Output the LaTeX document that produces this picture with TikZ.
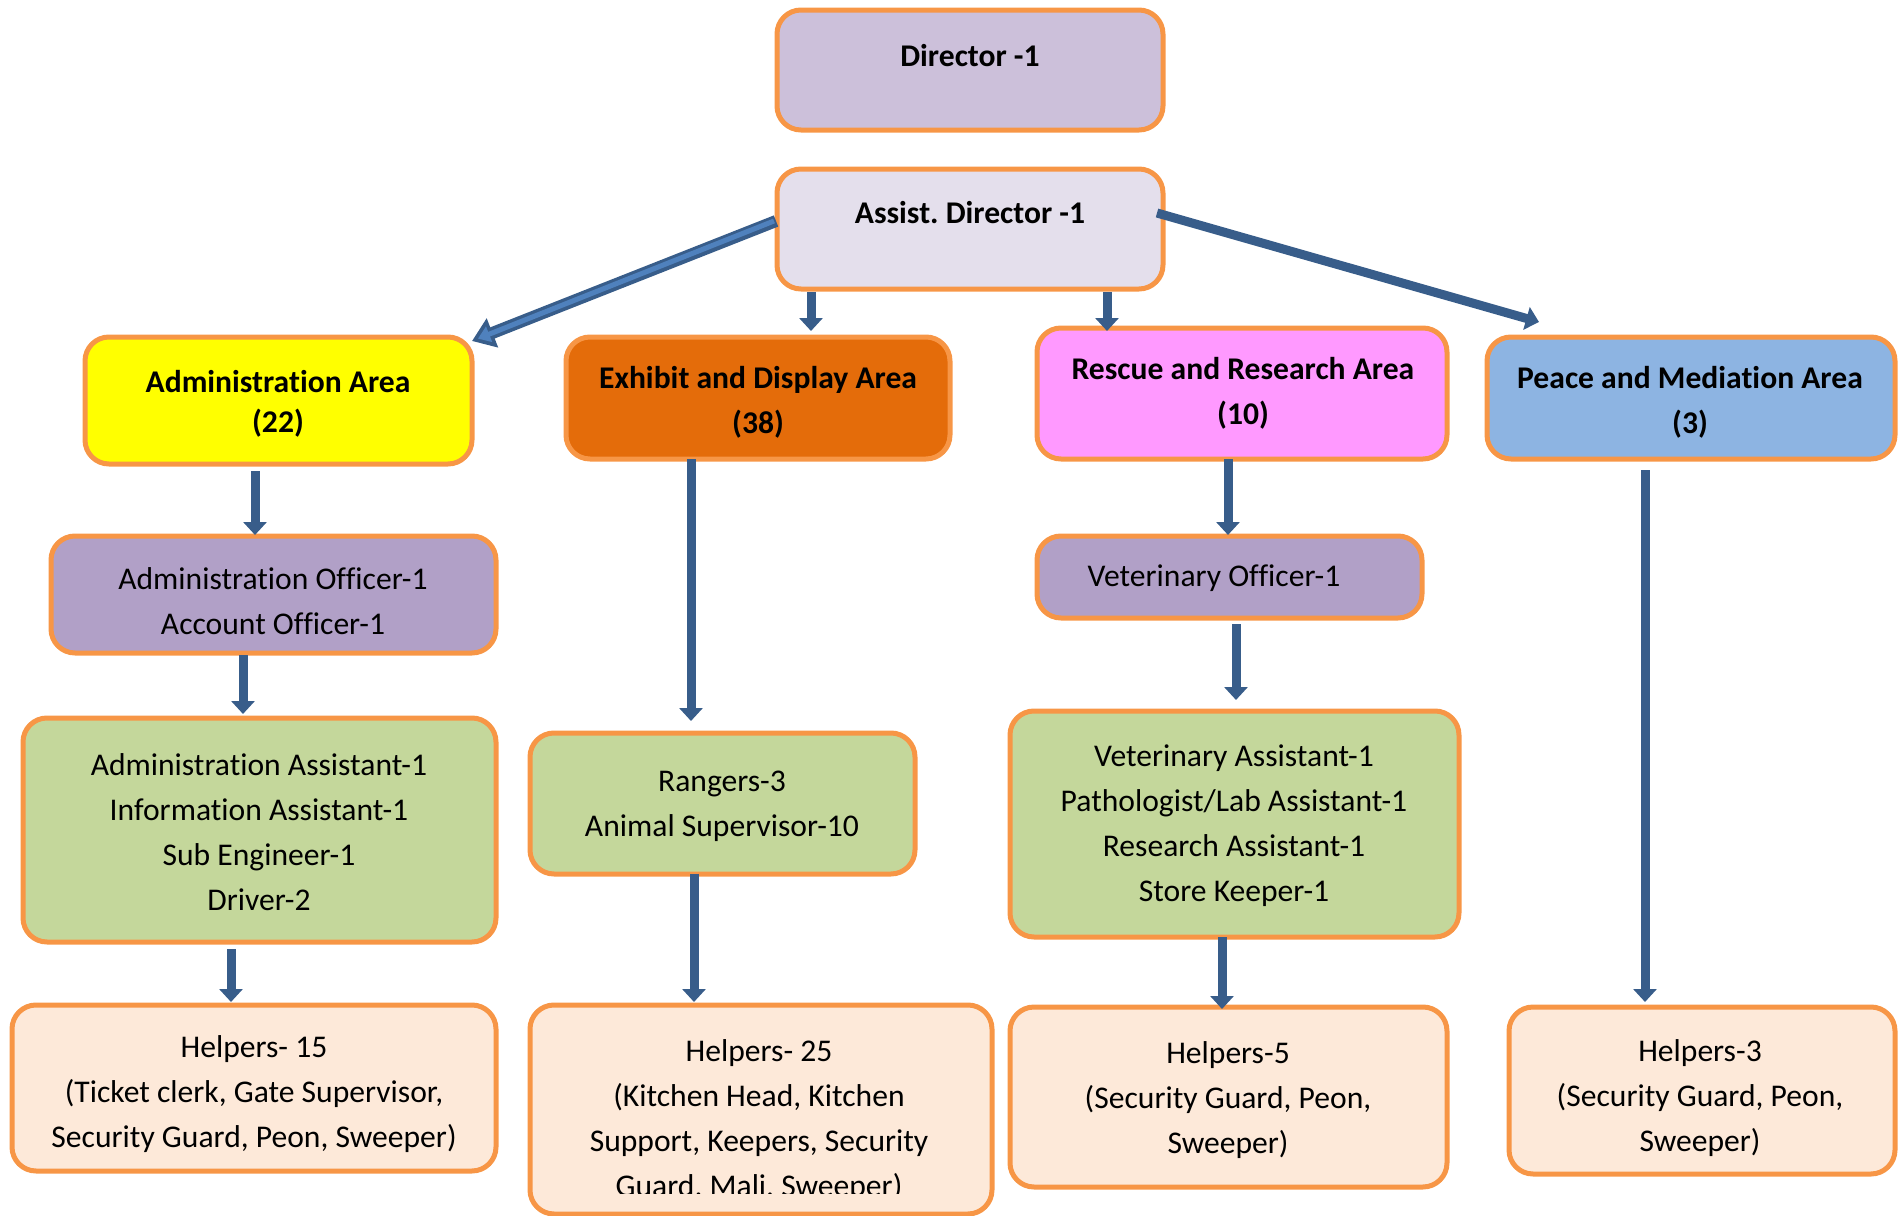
\documentclass[tikz,border=0pt]{standalone}
\usepackage{fontspec}
\setmainfont{Carlito}[Ligatures={NoCommon}]
\usetikzlibrary{arrows.meta,fit,calc}
\definecolor{bord}{HTML}{F79646}
\definecolor{arrc}{HTML}{385D8A}
\definecolor{arrl}{HTML}{4F81BD}
\definecolor{cdir}{HTML}{CCC0DA}
\definecolor{cad}{HTML}{E4DFEC}
\definecolor{caa}{HTML}{FFFF00}
\definecolor{cea}{HTML}{E46C0A}
\definecolor{cra}{HTML}{FF99FF}
\definecolor{cpa}{HTML}{8DB4E2}
\definecolor{coff}{HTML}{B1A0C7}
\definecolor{cgrn}{HTML}{C4D79B}
\definecolor{chelp}{HTML}{FDE9D9}
\frenchspacing
\tikzset{
  box/.style={draw=bord, line width=2.5pt, rounded corners=12pt, inner sep=0pt, outer sep=0pt},
  txt/.style={align=center, inner sep=0pt, font=\fontsize{15.8}{22.5}\selectfont},
  btxt/.style={align=center, inner sep=0pt, font=\fontsize{15.8}{22.5}\selectfont\bfseries},
  arr/.style={draw=arrc, line width=4.5pt, -{Triangle[width=11.5pt,length=6.5pt]}},
}
\begin{document}
\begin{tikzpicture}[x=0.5pt,y=-0.5pt]
\useasboundingbox (0,0) rectangle (1903,1216);
% boxes
\node[box, fill=cdir, fit={(777,10)(1163,130)}] (dir) {};
\node[box, fill=cad, fit={(777,169)(1163,289)}] (ad) {};
\node[box, fill=caa, fit={(85,337)(472,464)}] (aa) {};
\node[box, fill=cea, fit={(566,337)(950,459)}] (ea) {};
\node[box, fill=cra, fit={(1037,328)(1447,459)}] (ra) {};
\node[box, fill=cpa, fit={(1487,337)(1895,459)}] (pa) {};
\node[box, fill=coff, fit={(51,536)(496,653)}] (ao) {};
\node[box, fill=coff, fit={(1037,536)(1422,618)}] (vo) {};
\node[box, fill=cgrn, fit={(23,718)(496,942)}] (ag) {};
\node[box, fill=cgrn, fit={(530,733)(915,874)}] (rg) {};
\node[box, fill=cgrn, fit={(1010,711)(1459,937)}] (vg) {};
\node[box, fill=chelp, fit={(12,1005)(496,1171)}] (h1) {};
\node[box, fill=chelp, fit={(530,1005)(992,1214)}] (h2) {};
\node[box, fill=chelp, fit={(1010,1007)(1447,1187)}] (h3) {};
\node[box, fill=chelp, fit={(1509,1007)(1895,1174)}] (h4) {};
% texts
\node[btxt] (tdir) at (970,56) {Director -1};
\node[btxt] (tad) at (970,213) {Assist. Director -1};
\node[btxt, font=\fontsize{15.8}{20}\selectfont\bfseries] (taa) at (278,404) {Administration Area\\(22)};
\node[btxt] (tea) at (758,402) {Exhibit and Display Area\\(38)};
\node[btxt] (tra) at (1243,393) {Rescue and Research Area\\(10)};
\node[btxt] (tpa) at (1690,402) {Peace and Mediation Area\\(3)};
\node[txt] (tao) at (273,601) {Administration Officer-1\\Account Officer-1};
\node[txt] (tvo) at (1214,578) {Veterinary Officer-1};
\node[txt] (tag) at (259,832) {Administration Assistant-1\\Information Assistant-1\\Sub Engineer-1\\Driver-2};
\node[txt] (trg) at (722,806) {Rangers-3\\Animal Supervisor-10};
\node[txt] (tvg) at (1234,826) {Veterinary Assistant-1\\Pathologist/Lab Assistant-1\\Research Assistant-1\\Store Keeper-1};
\node[txt] (th1) at (254,1094) {Helpers- 15\\(Ticket clerk, Gate Supervisor,\\Security Guard, Peon, Sweeper)};
\begin{scope}
\clip (530,1005) rectangle (992,1193);
\node[txt] (th2) at (759,1121) {Helpers- 25\\(Kitchen Head, Kitchen\\Support, Keepers, Security\\Guard. Mali. Sweeper)};
\end{scope}
\node[txt] (th3) at (1228,1100) {Helpers-5\\(Security Guard, Peon,\\Sweeper)};
\node[txt] (th4) at (1700,1098) {Helpers-3\\(Security Guard, Peon,\\Sweeper)};
% arrows
\draw[draw=arrc, line width=6pt, -{Triangle[width=15pt,length=11pt]}] ($(ad.west)+(-1,-8)$) -- ($(aa.north east)+(0,4)$);
\draw[draw=arrl, line width=2.5pt, -{Triangle[width=8pt,length=6pt]}, shorten >=3.2pt] ($(ad.west)+(-3,-8)$) -- ($(aa.north east)+(0,4)$);
\draw[arr] ($(ad.east)+(-6,-16)$) -- ($(pa.north west)+(52,-15)$);
\draw[arr] ($(ad.south)+(-159,3)$) -- ($(ea.north)+(53,-6)$);
\draw[arr] ($(ad.south)+(137,3)$) -- ($(ra.north)+(-135,3)$);
\draw[arr] ($(aa.south)+(-23.5,7)$) -- ($(ao.north)+(-18.5,-1)$);
\draw[arr] ($(ao.south)+(-30.5,2)$) -- ($(ag.north)+(-16.5,-4)$);
\draw[arr] ($(ag.south)+(-28.5,7)$) -- ($(h1.north)+(-23,-3)$);
\draw[arr] ($(ea.south)+(-67,0)$) -- ($(rg.north)+(-31.5,-12)$);
\draw[arr] ($(rg.south)+(-28.5,0)$) -- ($(h2.north)+(-67,-3)$);
\draw[arr] ($(ra.south)+(-14,0)$) -- ($(vo.north)+(-1.5,-1)$);
\draw[arr] ($(vo.south)+(6.5,6)$) -- ($(vg.north)+(1.5,-11)$);
\draw[arr] ($(vg.south)+(-12.5,0)$) -- ($(h3.north)+(-6.5,2)$);
\draw[arr] ($(pa.south)+(-46,11)$) -- ($(h4.north)+(-57,-5)$);
\end{tikzpicture}
\end{document}
